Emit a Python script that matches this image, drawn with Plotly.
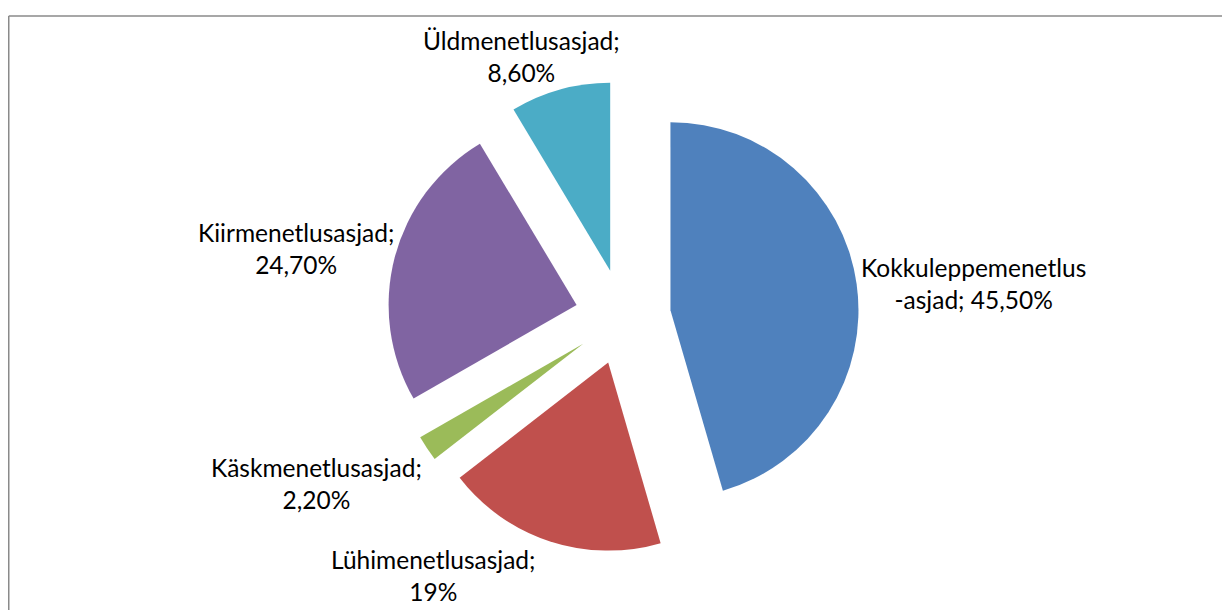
import plotly.graph_objects as go

# Data
categories = ["Kokkuleppemenetlus-asjad", "Lühimenetlusasjad", "Käskmenetlusasjad",
              "Kiirmenetlusasjad", "Üldmenetlusasjad"]
values = [45.5, 19, 2.2, 24.7, 8.6]
value_labels = ["45,50%", "19%", "2,20%", "24,70%", "8,60%"]
colors = ["#4F81BD", "#C0504D", "#9BBB59", "#8064A2", "#4BACC6"]

W, H = 1230, 610
OX, OY = 8, 7  # page offset compensation (body margin)

# label centres (pixels, as seen in the page) for the two-line data labels
label_pos = [(973, 285), (434, 576), (316, 484), (296, 250), (521, 57)]

def label_text(name, val):
    if "-" in name:
        a, b = name.split("-", 1)
        return f"{a}<br>-{b}; {val}"
    return f"{name};<br>{val}"

# pie geometry: centre (623,316), radius 188, pull 0.25
cx, cy, r, pull = 623 - OX, 316 - OY, 188, 0.255
half = r * (1 + pull)

fig = go.Figure(go.Pie(
    labels=categories,
    values=values,
    sort=False,
    direction="clockwise",
    rotation=0,
    pull=[pull] * len(values),
    marker=dict(colors=colors, line=dict(width=0)),
    textinfo="none",
    hoverinfo="label+percent",
    showlegend=False,
    domain=dict(x=[(cx - half) / W, (cx + half) / W],
                y=[1 - (cy + half) / H, 1 - (cy - half) / H]),
))

for name, val, (px, py) in zip(categories, value_labels, label_pos):
    fig.add_annotation(
        x=(px - OX) / W, y=1 - (py - OY - 2) / H, xref="paper", yref="paper",
        text=label_text(name, val), showarrow=False,
        xanchor="center", yanchor="middle", align="center",
        font=dict(family="Lato", size=24.5, color="#000000"),
    )

# chart border (top and left edges visible)
bx, by = 8 - OX + 0.75, 15 - OY
fig.add_shape(type="line", xref="paper", yref="paper",
              x0=bx / W, x1=1.05, y0=1 - by / H, y1=1 - by / H,
              line=dict(color="#8A8A8A", width=1.5))
fig.add_shape(type="line", xref="paper", yref="paper",
              x0=bx / W, x1=bx / W, y0=1 - by / H, y1=-0.05,
              line=dict(color="#8A8A8A", width=1.5))

fig.update_layout(
    width=W, height=H,
    margin=dict(l=0, r=0, t=0, b=0),
    paper_bgcolor="white",
    plot_bgcolor="white",
)

fig.write_html("out.html")
